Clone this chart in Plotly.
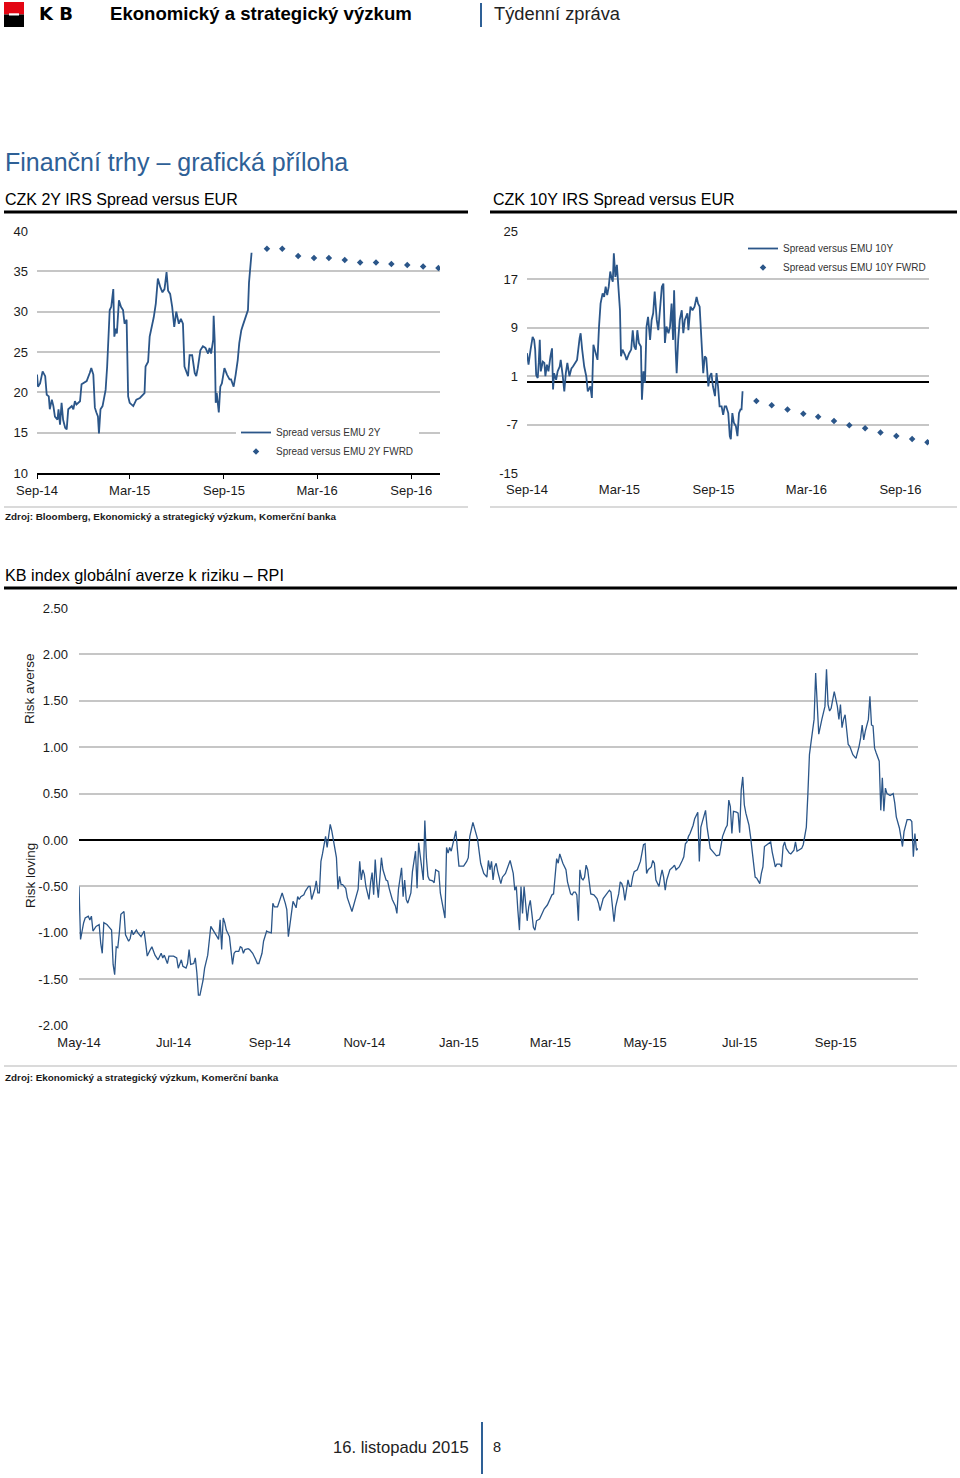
import pandas as pd
import plotly.graph_objects as go

# ---------------- data ----------------
# CZK 2Y IRS spread vs EUR (days since 2014-09-01, bp)
two_y_day = [0, 2, 6, 11, 16, 19, 23, 25, 29, 32,
             35, 40, 42, 45, 48, 51, 55, 58, 61, 68,
             71, 74, 77, 84, 87, 97, 103, 106, 110, 113,
             116, 119, 121, 124, 128, 131, 134, 137, 140, 142,
             145, 149, 151, 154, 156, 160, 164, 168, 171, 175,
             178, 181, 188, 194, 201, 207, 210, 212, 217, 220,
             223, 228, 232, 236, 241, 245, 249, 253, 256, 260,
             264, 268, 272, 277, 281, 285, 288, 292, 295, 298,
             303, 308, 311, 314, 319, 324, 329, 334, 337, 340,
             344, 345, 347, 349, 351, 355, 358, 361, 366, 371,
             376, 379, 384, 388, 392, 395, 399, 402, 407, 412,
             414, 417, 419]
two_y_val = [22.2, 20.7, 21.1, 22.6, 22.0, 19.7, 19.5, 17.9, 19.1, 18.3,
             17.0, 16.6, 17.9, 16.0, 18.7, 16.6, 15.6, 15.4, 17.9, 18.3,
             17.9, 18.9, 18.5, 18.9, 21.0, 21.4, 22.4, 23.0, 22.2, 18.1,
             17.5, 17.0, 14.9, 17.9, 18.3, 19.1, 20.3, 23.2, 26.9, 30.2,
             30.6, 32.8, 26.9, 27.9, 27.3, 31.4, 30.6, 30.2, 28.5, 29.0,
             19.5, 18.7, 18.3, 19.1, 19.3, 19.7, 19.9, 23.2, 23.8, 26.9,
             27.7, 29.3, 31.0, 34.1, 33.0, 32.4, 32.8, 34.9, 32.6, 32.2,
             30.6, 28.1, 30.0, 28.5, 29.1, 28.5, 23.2, 22.4, 22.0, 24.6,
             24.6, 22.4, 22.0, 23.0, 25.2, 25.7, 25.5, 24.8, 25.5, 24.8,
             26.5, 29.5, 26.5, 18.7, 19.9, 17.5, 20.7, 21.1, 23.0, 22.2,
             21.6, 21.6, 20.7, 22.2, 24.0, 26.1, 27.7, 28.3, 29.3, 30.2,
             33.6, 36.3, 37.3]

# forward points (monthly)
fwd_dates = ["2015-11-24", "2015-12-24", "2016-01-24", "2016-02-24", "2016-03-24", "2016-04-24",
             "2016-05-24", "2016-06-24", "2016-07-24", "2016-08-24", "2016-09-24", "2016-10-24"]
two_y_fwd = [37.8, 37.8, 36.9, 36.65, 36.65, 36.4, 36.1, 36.1, 35.9, 35.8, 35.6, 35.4]

# CZK 10Y IRS spread vs EUR (days since 2014-09-01, bp)
ten_y_day = [0, 3, 7, 11, 14, 16, 18, 21, 23, 25,
             27, 31, 34, 36, 39, 42, 46, 49, 51, 53,
             57, 60, 64, 66, 70, 73, 76, 79, 83, 87,
             90, 94, 98, 103, 105, 108, 112, 116, 119, 124,
             127, 130, 133, 138, 141, 144, 148, 151, 154, 157,
             160, 163, 165, 168, 170, 173, 176, 179, 182, 184,
             187, 192, 195, 200, 204, 207, 210, 213, 216, 219,
             223, 225, 228, 231, 234, 237, 241, 244, 247, 250,
             254, 257, 260, 264, 267, 270, 273, 277, 280, 283,
             286, 288, 291, 293, 296, 299, 303, 306, 309, 314,
             316, 320, 324, 328, 332, 335, 338, 342, 345, 348,
             351, 355, 358, 361, 364, 368, 371, 374, 377, 381,
             384, 387, 390, 394, 397, 399, 402, 405, 409, 412,
             415, 418, 420, 422]
ten_y_val = [4.8, 2.9, 5.4, 7.5, 7.0, 5.4, 1.2, 0.7, 3.2, 7.0,
             1.8, 3.4, 3.2, 1.0, 2.9, 1.8, 4.3, 5.6, -1.2, 1.5,
             0.4, 1.8, 2.6, 3.7, 1.0, -1.5, 1.5, 3.2, 1.0, 2.3,
             2.6, 3.2, 3.7, 7.3, 8.1, 5.4, 2.6, 1.0, -1.5, -0.7,
             -2.6, 6.2, 5.4, 3.7, 9.2, 13.0, 14.7, 14.1, 15.8, 14.4,
             15.8, 18.3, 17.4, 16.6, 21.3, 17.4, 19.4, 14.7, 11.9, 4.3,
             5.4, 4.5, 3.7, 4.8, 5.4, 8.6, 5.9, 5.4, 8.6, 6.5,
             5.9, -2.9, 1.8, -0.1, 9.2, 10.8, 7.0, 10.3, 11.4, 15.0,
             10.3, 8.6, 12.5, 15.8, 16.3, 6.5, 9.2, 8.1, 9.2, 13.0,
             7.0, 15.2, 5.4, 1.5, 7.0, 10.3, 11.9, 8.1, 10.3, 11.4,
             8.6, 12.5, 11.9, 12.5, 14.1, 13.0, 12.5, 5.9, 1.5, 4.3,
             4.0, -0.7, 1.0, 1.5, -0.7, -2.3, 1.5, -0.7, -4.0, -4.0,
             -5.4, -4.0, -4.0, -5.1, -8.9, -9.4, -5.1, -6.7, -7.3, -8.9,
             -5.1, -4.5, -4.5, -1.5]
ten_y_fwd = [-3.1, -3.8, -4.5, -5.2, -5.7, -6.4, -7.1, -7.6, -8.3, -8.9, -9.4, -9.9]

# KB RPI index (days since 2014-05-01)
rpi_day = [0, 1, 3, 4, 6, 7, 8, 9, 11, 13,
           14, 15, 16, 18, 19, 21, 22, 23, 24, 25,
           26, 27, 29, 30, 32, 33, 34, 35, 37, 38,
           40, 42, 43, 44, 46, 47, 49, 51, 53, 54,
           55, 57, 58, 61, 63, 64, 66, 67, 69, 70,
           71, 72, 74, 75, 76, 77, 78, 80, 81, 82,
           83, 85, 87, 89, 90, 91, 92, 93, 94, 95,
           97, 99, 100, 101, 103, 104, 105, 106, 107, 109,
           110, 112, 114, 115, 116, 118, 119, 120, 121, 122,
           124, 125, 126, 128, 129, 130, 131, 133, 134, 135,
           137, 138, 140, 141, 142, 143, 145, 146, 148, 149,
           150, 151, 152, 153, 154, 155, 156, 157, 158, 159,
           160, 161, 162, 163, 164, 165, 166, 167, 168, 169,
           170, 172, 173, 176, 178, 180, 181, 182, 183, 184,
           185, 187, 188, 189, 190, 191, 192, 193, 195, 196,
           198, 199, 200, 202, 204, 205, 206, 208, 209, 210,
           211, 212, 214, 215, 217, 218, 219, 221, 222, 223,
           224, 225, 226, 228, 229, 230, 232, 233, 235, 236,
           237, 238, 239, 240, 241, 242, 243, 244, 245, 248,
           250, 251, 252, 254, 255, 257,
           259, 261, 263, 264, 265, 266, 267, 268, 269, 270,
           272, 273, 275, 276, 277, 278, 279, 280, 281, 282,
           283, 284, 285, 286, 287, 289, 290, 291, 292, 293,
           294, 295, 297, 298, 300, 302, 304, 305, 306, 307,
           308, 309, 310, 312, 314, 315, 317, 318, 319, 320,
           321, 322, 323, 324, 325, 326, 327, 328, 329, 330,
           332, 333, 334, 335, 336, 338, 339, 341, 342, 343,
           344, 345, 346, 348, 349, 350, 351, 352, 353, 354,
           355, 356, 357, 358, 360, 362, 363, 364, 365, 366,
           367, 369, 370, 371, 372, 374, 375, 376, 377, 378,
           379, 380, 381, 383, 384, 385, 387, 389, 390, 391,
           392, 393, 394, 396, 397, 399, 400, 401, 402, 403,
           404, 405, 407, 409, 411, 413, 414, 415, 417, 418,
           419, 420, 421, 422, 424, 425, 426, 427, 428, 429,
           430, 432, 433, 434, 435, 436, 437, 439, 440, 441,
           442, 444, 446, 447, 449, 450, 452, 453, 454, 455,
           456, 458, 459, 461, 462, 463, 464, 466, 467, 469,
           470, 471, 472, 473, 474, 475, 476, 477, 479, 481,
           482, 483, 484, 485, 486, 487, 489, 490, 491, 492,
           493, 494, 496, 497, 499, 500, 501, 503, 504, 505,
           506, 507, 508, 509, 510, 511, 512, 513, 514, 516,
           517, 518, 519, 520, 521, 523, 525, 526, 527, 529,
           531, 532, 534, 536, 537, 538, 539, 540, 541]
rpi_val = [-0.50, -1.07, -0.89, -0.84, -0.82, -0.86, -0.82, -0.98, -0.93, -0.91,
           -1.11, -1.22, -0.89, -0.91, -0.93, -0.97, -1.34, -1.45, -1.15, -1.16,
           -1.00, -0.80, -0.77, -1.02, -1.09, -1.06, -0.97, -1.02, -0.97, -1.00,
           -1.04, -0.98, -1.11, -1.25, -1.18, -1.15, -1.24, -1.29, -1.22, -1.27,
           -1.24, -1.33, -1.25, -1.25, -1.27, -1.38, -1.29, -1.36, -1.38, -1.33,
           -1.18, -1.34, -1.33, -1.27, -1.43, -1.67, -1.67, -1.51, -1.38, -1.29,
           -1.24, -0.93, -0.98, -1.04, -1.07, -0.86, -1.18, -0.84, -0.89, -0.97,
           -1.04, -1.34, -1.22, -1.20, -1.20, -1.15, -1.16, -1.22, -1.18, -1.17,
           -1.18, -1.22, -1.29, -1.33, -1.33, -1.22, -1.09, -1.04, -0.98, -0.99,
           -1.00, -0.68, -0.72, -0.72, -0.66, -0.62, -0.57, -0.68, -0.75, -1.04,
           -0.80, -0.66, -0.73, -0.61, -0.64, -0.61, -0.59, -0.55, -0.50, -0.50,
           -0.64, -0.59, -0.53, -0.44, -0.57, -0.57, -0.23, -0.15, -0.03, 0.04,
           -0.08, 0.06, 0.17, 0.10, 0.01, -0.10, -0.19, -0.53, -0.39, -0.48,
           -0.48, -0.52, -0.62, -0.77, -0.66, -0.53, -0.23, -0.43, -0.32, -0.37,
           -0.50, -0.64, -0.46, -0.35, -0.59, -0.21, -0.46, -0.62, -0.19, -0.32,
           -0.43, -0.44, -0.52, -0.64, -0.71, -0.79, -0.53, -0.30, -0.61, -0.43,
           -0.64, -0.68, -0.57, -0.34, -0.12, -0.52, -0.03, -0.28, -0.43, 0.21,
           -0.19, -0.39, -0.43, -0.44, -0.46, -0.32, -0.34, -0.57, -0.75, -0.84,
           -0.08, -0.14, -0.08, -0.12, -0.05, 0.01, 0.10, -0.10, -0.28, -0.28,
           -0.23, -0.19, 0.04, 0.19, 0.12, 0.01,
           -0.25, -0.36, -0.40, -0.22, -0.32, -0.23, -0.43, -0.29, -0.25, -0.34,
           -0.47, -0.40, -0.36, -0.32, -0.27, -0.22, -0.29, -0.36, -0.54, -0.50,
           -0.76, -0.97, -0.50, -0.79, -0.50, -0.87, -0.72, -0.65, -0.79, -0.94,
           -0.97, -0.87, -0.85, -0.81, -0.74, -0.70, -0.63, -0.59, -0.58, -0.34,
           -0.20, -0.25, -0.15, -0.25, -0.32, -0.45, -0.58, -0.59, -0.56, -0.56,
           -0.59, -0.87, -0.32, -0.41, -0.43, -0.40, -0.27, -0.32, -0.43, -0.58,
           -0.59, -0.61, -0.63, -0.68, -0.76, -0.63, -0.61, -0.56, -0.54, -0.56,
           -0.72, -0.88, -0.72, -0.58, -0.45, -0.47, -0.52, -0.65, -0.54, -0.43,
           -0.50, -0.50, -0.40, -0.34, -0.32, -0.23, -0.14, -0.05, -0.04, -0.36,
           -0.32, -0.29, -0.22, -0.25, -0.43, -0.50, -0.40, -0.32, -0.40, -0.54,
           -0.43, -0.36, -0.32, -0.29, -0.27, -0.32, -0.29, -0.22, -0.18, -0.04,
           -0.02, 0.04, 0.07, 0.16, 0.23, 0.30, -0.23, 0.14, 0.20, 0.25,
           0.32, 0.14, -0.09, -0.13, -0.17, -0.16, -0.07, 0.04, 0.13, 0.16,
           0.43, 0.36, 0.07, 0.31, 0.30, 0.29, 0.08, 0.54, 0.68, 0.38,
           0.29, 0.16, 0.04, -0.11, -0.25, -0.40, -0.41, -0.47, -0.36, -0.29,
           -0.07, -0.04, -0.02, -0.13, -0.29, -0.26, -0.26, -0.29, -0.07, -0.02,
           -0.09, -0.14, -0.15, -0.11, -0.02, -0.12, -0.11, -0.09, -0.05, 0.14,
           0.50, 0.92, 1.05, 1.21, 1.30, 1.80, 1.44, 1.14, 1.30, 1.44,
           1.84, 1.46, 1.39, 1.42, 1.51, 1.60, 1.44, 1.30, 1.46, 1.21,
           1.30, 1.35, 1.03, 1.01, 0.92, 0.90, 0.88, 1.01, 1.10, 1.24,
           1.08, 1.17, 1.23, 1.30, 1.55, 1.24, 1.23, 0.99, 0.94, 0.85,
           0.32, 0.67, 0.31, 0.56, 0.50, 0.48, 0.50, 0.40, 0.25, 0.13,
           -0.07, 0.09, 0.22, 0.22, 0.20, -0.18, 0.07, -0.11, -0.09]

# axis tick values
two_y_ticks = [10, 15, 20, 25, 30, 35, 40]
ten_y_ticks = [-15, -7, 1, 9, 17, 25]
rpi_ticks = [-2.0, -1.5, -1.0, -0.5, 0.0, 0.5, 1.0, 1.5, 2.0, 2.5]

assert len(two_y_day) == len(two_y_val)
assert len(ten_y_day) == len(ten_y_val)
assert len(rpi_day) == len(rpi_val)

irs_start = pd.Timestamp("2014-09-01")
rpi_start = pd.Timestamp("2014-05-01")
two_y_x = irs_start + pd.to_timedelta(two_y_day, unit="D")
ten_y_x = irs_start + pd.to_timedelta(ten_y_day, unit="D")
rpi_x = rpi_start + pd.to_timedelta(rpi_day, unit="D")

# ---------------- layout helpers ----------------
W, H = 960, 1478


def px(x):
    return x / W


def py(y):
    return 1 - y / H


FONT = "Liberation Sans, Arial, Helvetica, sans-serif"
BLUE = "#2b5689"
TITLE_BLUE = "#2e6096"
GRID = "#c6c6c6"
TXT = "#1a1a1a"

fig = go.Figure()

fig.add_trace(go.Scatter(x=two_y_x, y=two_y_val, mode="lines", name="Spread versus EMU 2Y",
                         line=dict(color=BLUE, width=1.8), xaxis="x", yaxis="y", legend="legend"))
fig.add_trace(go.Scatter(x=fwd_dates, y=two_y_fwd, mode="markers", name="Spread versus EMU 2Y FWRD",
                         marker=dict(color=BLUE, size=5, symbol="diamond"), xaxis="x", yaxis="y",
                         legend="legend"))
fig.add_trace(go.Scatter(x=ten_y_x, y=ten_y_val, mode="lines", name="Spread versus EMU 10Y",
                         line=dict(color=BLUE, width=1.8), xaxis="x2", yaxis="y2", legend="legend2"))
fig.add_trace(go.Scatter(x=fwd_dates, y=ten_y_fwd, mode="markers", name="Spread versus EMU 10Y FWRD",
                         marker=dict(color=BLUE, size=5, symbol="diamond"), xaxis="x2", yaxis="y2",
                         legend="legend2"))
fig.add_trace(go.Scatter(x=rpi_x, y=rpi_val, mode="lines", name="RPI", showlegend=False,
                         line=dict(color=BLUE, width=1.3), xaxis="x3", yaxis="y3"))

irs_range = ["2014-09-01", "2016-10-27"]
rpi_range = ["2014-05-01", "2015-10-24"]
tickfont = dict(family=FONT, size=13, color=TXT)

date_ax = dict(type="date", tickformat="%b-%y", showgrid=False, zeroline=False, tickfont=tickfont,
               automargin=False)

fig.update_layout(
    template="none",
    width=W, height=H, margin=dict(l=0, r=0, t=0, b=0, pad=0), autosize=False,
    paper_bgcolor="white", plot_bgcolor="white",
    font=dict(family=FONT, color=TXT),
    xaxis=dict(date_ax, domain=[px(37), px(440)], range=irs_range, dtick="M6", tick0="2014-09-01",
               anchor="y", showline=True, linecolor="black", linewidth=1.5,
               ticks="outside", ticklen=4, tickcolor="black", tickwidth=1, ticklabelstandoff=1),
    yaxis=dict(domain=[py(473), py(231)], range=[10, 40], anchor="x",
               tickvals=two_y_ticks, ticktext=[f"{v:d}" for v in two_y_ticks],
               showgrid=True, gridcolor=GRID, gridwidth=1.5, zeroline=False, showline=False,
               ticks="", tickfont=tickfont, ticklabelstandoff=8, automargin=False),
    xaxis2=dict(date_ax, domain=[px(527), px(929)], range=irs_range, dtick="M6", tick0="2014-09-01",
                anchor="y2", showline=False, ticks="", ticklabelstandoff=7),
    yaxis2=dict(domain=[py(473), py(231)], range=[-15, 25], anchor="x2",
                tickvals=ten_y_ticks, ticktext=[f"{v:d}" for v in ten_y_ticks],
                showgrid=True, gridcolor=GRID, gridwidth=1.5, showline=False, ticks="",
                zeroline=True, zerolinecolor="black", zerolinewidth=1.5,
                tickfont=tickfont, ticklabelstandoff=8, automargin=False),
    xaxis4=dict(type="date", overlaying="x2", anchor="free", position=py(382.7),
                range=irs_range, dtick="M6", tick0="2014-09-01", showgrid=False, zeroline=False,
                showline=False, ticks="outside", ticklen=4, tickcolor="black",
                showticklabels=False, automargin=False),
    xaxis3=dict(date_ax, domain=[px(79), px(918)], range=rpi_range, dtick="M2", tick0="2014-05-01",
                anchor="y3", showline=False, ticks="", ticklabelstandoff=7),
    yaxis3=dict(domain=[py(1025.7), py(608)], range=[-2, 2.5], anchor="x3",
                tickvals=rpi_ticks, ticktext=[f"{v:.2f}" for v in rpi_ticks],
                showgrid=True, gridcolor=GRID, gridwidth=1.5, showline=False, ticks="",
                zeroline=True, zerolinecolor="black", zerolinewidth=1.5,
                tickfont=tickfont, ticklabelstandoff=10, automargin=False),
    xaxis5=dict(type="date", overlaying="x3", anchor="free", position=py(840),
                range=rpi_range, dtick="M2", tick0="2014-05-01", showgrid=False, zeroline=False,
                showline=False, ticks="outside", ticklen=4, tickcolor="black",
                showticklabels=False, automargin=False),
    legend=dict(x=px(236), y=py(418), xanchor="left", yanchor="top", bgcolor="white",
                font=dict(family=FONT, size=10, color="#333"), itemwidth=30,
                tracegroupgap=0),
    legend2=dict(x=px(743), y=py(234), xanchor="left", yanchor="top", bgcolor="rgba(0,0,0,0)",
                 font=dict(family=FONT, size=10, color="#333"), itemwidth=30,
                 tracegroupgap=0),
    showlegend=True,
)

# ---------------- page text ----------------
ann = []


def text(x, y, s, size, color=TXT, xanchor="left", bold=False, angle=0, family=FONT):
    ann.append(dict(x=px(x), y=py(y), xref="paper", yref="paper", text=(f"<b>{s}</b>" if bold else s),
                    showarrow=False, xanchor=xanchor, yanchor="middle", textangle=angle,
                    font=dict(family=family, size=size, color=color)))


text(37, 14, "K B", 18, color="black", bold=True, family="DejaVu Sans")
text(108, 14, "Ekonomický a strategický výzkum", 18.6, color="black", bold=True)
text(492, 14, "Týdenní zpráva", 18.3, color="#222")
text(3, 162, "Finanční trhy – grafická příloha", 25, color=TITLE_BLUE)
text(3, 199, "CZK 2Y IRS Spread versus EUR", 16, color="black")
text(491, 199, "CZK 10Y IRS Spread versus EUR", 16, color="black")
text(3, 517, "Zdroj: Bloomberg, Ekonomický a strategický výzkum, Komerční banka", 9.9, bold=True)
text(3, 575, "KB index globální averze k riziku – RPI", 16.2, color="black")
text(30, 689, "Risk averse", 13.5, xanchor="center", angle=-90)
text(30, 876, "Risk loving", 13.5, xanchor="center", angle=-90)
text(3, 1077, "Zdroj: Ekonomický a strategický výzkum, Komerční banka", 9.9, bold=True)
text(471, 1447, "16. listopadu 2015", 16.6, color="#222", xanchor="right")
text(497, 1447, "8", 14.5, color="#222", xanchor="center")

shapes = []


def rect(x0, y0, x1, y1, color):
    shapes.append(dict(type="rect", xref="paper", yref="paper", x0=px(x0), x1=px(x1), y0=py(y1),
                       y1=py(y0), fillcolor=color, line=dict(width=0)))


def hline(x0, x1, y, color, width):
    shapes.append(dict(type="line", xref="paper", yref="paper", x0=px(x0), x1=px(x1), y0=py(y),
                       y1=py(y), line=dict(color=color, width=width)))


def vline(x, y0, y1, color, width):
    shapes.append(dict(type="line", xref="paper", yref="paper", x0=px(x), x1=px(x), y0=py(y0),
                       y1=py(y1), line=dict(color=color, width=width)))


rect(4, 2, 24, 14.5, "#e30613")
rect(4, 14.5, 24, 27, "black")
rect(9, 13.3, 19, 15.5, "white")
vline(481, 3, 27, TITLE_BLUE, 2)
hline(4, 468, 212, "black", 3)
hline(490, 957, 212, "black", 3)
hline(4, 468, 507, "#b5b5b5", 1)
hline(490, 957, 507, "#b5b5b5", 1)
hline(4, 957, 588, "black", 3)
hline(4, 957, 1066, "#b5b5b5", 1)
vline(482, 1422, 1474, TITLE_BLUE, 2)

fig.update_layout(annotations=ann, shapes=shapes)

fig.write_html(
    "out.html",
    config={"displayModeBar": False},
    post_script="document.body.style.margin='0';document.body.style.padding='0';"
                "document.body.style.overflow='hidden';",
)
